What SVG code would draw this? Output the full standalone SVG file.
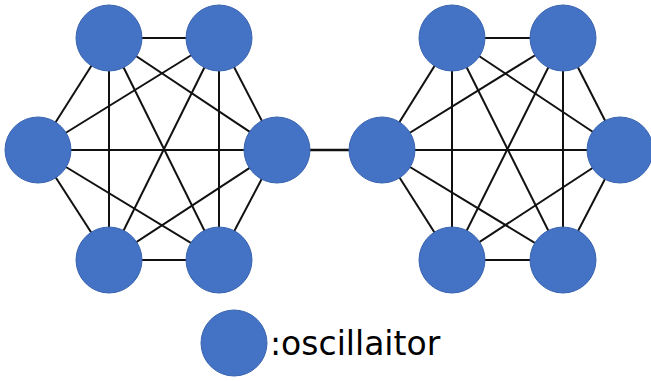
<svg xmlns="http://www.w3.org/2000/svg" width="651" height="381" viewBox="0 0 651 381">
  <style>
    .edge { stroke: #111; stroke-width: 2; fill: none; }
    .osc { fill: #4472C4; stroke: #3A64B0; stroke-width: 1; }
    .label { font-family: "DejaVu Sans", sans-serif; font-size: 33px; fill: #000; }
  </style>
  <rect width="651" height="381" fill="#fff"/>
  <g id="connectors" class="edge">
    <!-- left cluster: complete graph on six nodes -->
    <line x1="109" y1="38" x2="219" y2="38"/>
    <line x1="109" y1="38" x2="38" y2="150"/>
    <line x1="109" y1="38" x2="277" y2="150"/>
    <line x1="109" y1="38" x2="109" y2="260"/>
    <line x1="109" y1="38" x2="219" y2="260"/>
    <line x1="219" y1="38" x2="38" y2="150"/>
    <line x1="219" y1="38" x2="277" y2="150"/>
    <line x1="219" y1="38" x2="109" y2="260"/>
    <line x1="219" y1="38" x2="219" y2="260"/>
    <line x1="38" y1="150" x2="277" y2="150"/>
    <line x1="38" y1="150" x2="109" y2="260"/>
    <line x1="38" y1="150" x2="219" y2="260"/>
    <line x1="277" y1="150" x2="109" y2="260"/>
    <line x1="277" y1="150" x2="219" y2="260"/>
    <line x1="109" y1="260" x2="219" y2="260"/>
    <!-- link between clusters -->
    <line x1="277" y1="150" x2="382" y2="150" stroke-width="2.5"/>
    <!-- right cluster: complete graph on six nodes -->
    <line x1="452" y1="38" x2="563" y2="38"/>
    <line x1="452" y1="38" x2="382" y2="150"/>
    <line x1="452" y1="38" x2="620" y2="150"/>
    <line x1="452" y1="38" x2="452" y2="260"/>
    <line x1="452" y1="38" x2="563" y2="260"/>
    <line x1="563" y1="38" x2="382" y2="150"/>
    <line x1="563" y1="38" x2="620" y2="150"/>
    <line x1="563" y1="38" x2="452" y2="260"/>
    <line x1="563" y1="38" x2="563" y2="260"/>
    <line x1="382" y1="150" x2="620" y2="150"/>
    <line x1="382" y1="150" x2="452" y2="260"/>
    <line x1="382" y1="150" x2="563" y2="260"/>
    <line x1="620" y1="150" x2="452" y2="260"/>
    <line x1="620" y1="150" x2="563" y2="260"/>
    <line x1="452" y1="260" x2="563" y2="260"/>
  </g>
  <g id="L1"><circle class="osc" cx="109" cy="38" r="33"/></g>
  <g id="L2"><circle class="osc" cx="219" cy="38" r="33"/></g>
  <g id="L3"><circle class="osc" cx="38" cy="150" r="33"/></g>
  <g id="L4"><circle class="osc" cx="277" cy="150" r="33"/></g>
  <g id="L5"><circle class="osc" cx="109" cy="260" r="33"/></g>
  <g id="L6"><circle class="osc" cx="219" cy="260" r="33"/></g>
  <g id="R1"><circle class="osc" cx="452" cy="38" r="33"/></g>
  <g id="R2"><circle class="osc" cx="563" cy="38" r="33"/></g>
  <g id="R3"><circle class="osc" cx="382" cy="150" r="33"/></g>
  <g id="R4"><circle class="osc" cx="620" cy="150" r="33"/></g>
  <g id="R5"><circle class="osc" cx="452" cy="260" r="33"/></g>
  <g id="R6"><circle class="osc" cx="563" cy="260" r="33"/></g>
  <g id="legend">
    <circle class="osc" cx="234" cy="343" r="33"/>
    <text class="label" x="270" y="355">:oscillaitor</text>
  </g>
</svg>
